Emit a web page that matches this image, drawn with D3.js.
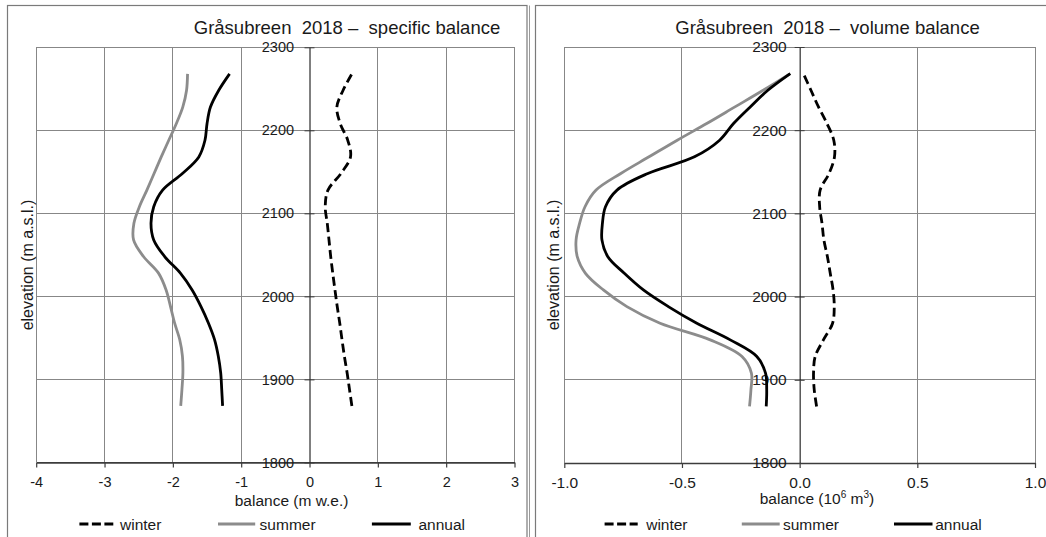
<!DOCTYPE html>
<html><head><meta charset="utf-8">
<script src="https://cdn.jsdelivr.net/npm/d3@7"></script>
<style>
html,body{margin:0;padding:0;background:#fff;}
svg{display:block;font-family:"Liberation Sans",Arial,sans-serif;}
</style></head>
<body>
<script>
// ---------- DATA ----------
const elevations = [1868,1888,1908,1928,1948,1968,1988,2008,2028,2048,2068,2088,2108,2128,2148,2168,2188,2208,2228,2248,2268];

// specific balance (m w.e.)
const specWinter = [0.62,0.585,0.55,0.51,0.475,0.442,0.405,0.372,0.34,0.31,0.285,0.26,0.23,0.27,0.46,0.60,0.56,0.45,0.40,0.49,0.62];
const specSummer = [-1.885,-1.867,-1.853,-1.86,-1.90,-1.975,-2.035,-2.10,-2.21,-2.43,-2.575,-2.57,-2.49,-2.38,-2.275,-2.17,-2.06,-1.95,-1.855,-1.80,-1.785];
const specAnnual = [-1.272,-1.285,-1.30,-1.335,-1.39,-1.48,-1.59,-1.72,-1.89,-2.12,-2.28,-2.32,-2.28,-2.15,-1.86,-1.62,-1.53,-1.50,-1.45,-1.33,-1.17];

// volume balance (10^6 m3)
const volWinter = [0.072,0.062,0.059,0.066,0.101,0.14,0.147,0.142,0.13,0.118,0.103,0.095,0.085,0.087,0.125,0.148,0.145,0.116,0.08,0.048,0.016];
const volSummer = [-0.213,-0.207,-0.205,-0.245,-0.38,-0.593,-0.734,-0.834,-0.91,-0.945,-0.95,-0.935,-0.912,-0.865,-0.76,-0.64,-0.52,-0.395,-0.275,-0.155,-0.04];
const volAnnual = [-0.142,-0.140,-0.145,-0.182,-0.295,-0.437,-0.558,-0.664,-0.745,-0.815,-0.84,-0.838,-0.825,-0.776,-0.645,-0.447,-0.34,-0.281,-0.21,-0.135,-0.04];

const elevTicks = [1800,1900,2000,2100,2200,2300];
const specTicksX = [-4,-3,-2,-1,0,1,2,3];
const volTicksX = [-1,-0.5,0,0.5,1];
const seriesNames = ["winter","summer","annual"];
const specTitle = "Gråsubreen  2018 –  specific balance";
const volTitle = "Gråsubreen  2018 –  volume balance";
const yTitle = "elevation (m a.s.l.)";

// ---------- DRAW ----------
const W = 1046, H = 537;
const svg = d3.select("body").append("svg").attr("width", W).attr("height", H);
svg.append("rect").attr("width", W).attr("height", H).attr("fill", "#fff");

// panel frames
svg.append("rect").attr("x", 7.5).attr("y", 5.5).attr("width", 519.5).attr("height", 560)
  .attr("fill", "none").attr("stroke", "#7a7a7a").attr("stroke-width", 1.2);
svg.append("line").attr("x1", 529.5).attr("x2", 529.5).attr("y1", 5.5).attr("y2", H)
  .attr("stroke", "#9a9a9a").attr("stroke-width", 1);
svg.append("rect").attr("x", 535.5).attr("y", 5.5).attr("width", 560).attr("height", 560)
  .attr("fill", "none").attr("stroke", "#7a7a7a").attr("stroke-width", 1.2);

const GRID = "#878787", SUMMER = "#8c8c8c";
const hyphen = f => d => f(d).replace("\u2212", "-");

function panel(cfg) {
  const x = d3.scaleLinear().domain(cfg.xDomain).range(cfg.xRange);
  const y = d3.scaleLinear().domain([1800, 2300]).range(cfg.yRange);
  const g = svg.append("g");

  // grid
  g.selectAll(".vg").data(cfg.xTicks).join("line")
    .attr("x1", d => x(d)).attr("x2", d => x(d))
    .attr("y1", y(1800)).attr("y2", y(2300))
    .attr("stroke", d => d === 0 ? "none" : GRID).attr("stroke-width", 1)
    .attr("shape-rendering", "crispEdges");
  g.selectAll(".hg").data(elevTicks.filter(d => d !== 1800)).join("line")
    .attr("x1", cfg.xRange[0]).attr("x2", cfg.xRange[1])
    .attr("y1", d => y(d)).attr("y2", d => y(d))
    .attr("stroke", GRID).attr("stroke-width", 1)
    .attr("shape-rendering", "crispEdges");

  // x axis (bottom, at 1800)
  const xa = g.append("g").attr("transform", `translate(0,${y(1800)})`)
    .call(d3.axisBottom(x).tickValues(cfg.xTicks).tickSize(5).tickSizeOuter(0)
      .tickPadding(cfg.xPad).tickFormat(hyphen(cfg.xFmt)));
  xa.attr("font-family", null).attr("font-size", cfg.tickFont);
  xa.select(".domain").attr("stroke", "#3c3c3c").attr("stroke-width", 1.6);
  xa.selectAll(".tick line").attr("stroke", "#3c3c3c").attr("stroke-width", 1.2);
  xa.selectAll(".tick text").attr("fill", "#1a1a1a");

  // y axis at x = 0
  const ya = g.append("g").attr("transform", `translate(${x(0)},0)`)
    .call(d3.axisLeft(y).tickValues(elevTicks).tickSize(5).tickSizeOuter(0)
      .tickPadding(cfg.yPad).tickFormat(d3.format("d")));
  ya.attr("font-family", null).attr("font-size", cfg.tickFont);
  ya.select(".domain").attr("stroke", "#000").attr("stroke-width", 1);
  ya.selectAll(".tick line").attr("x1", -5).attr("x2", 5).attr("stroke", "#3c3c3c");
  ya.selectAll(".tick text").attr("fill", "#1a1a1a");

  // curves
  const line = d3.line().x(d => x(d[1])).y(d => y(d[0])).curve(d3.curveCatmullRom.alpha(0.5));
  const zip = arr => elevations.map((e, i) => [e, arr[i]]);
  g.append("path").datum(zip(cfg.summer)).attr("d", line).attr("fill", "none")
    .attr("stroke", SUMMER).attr("stroke-width", 2.8).attr("stroke-linecap", "butt");
  g.append("path").datum(zip(cfg.annual)).attr("d", line).attr("fill", "none")
    .attr("stroke", "#000").attr("stroke-width", 2.8);
  g.append("path").datum(zip(cfg.winter)).attr("d", line).attr("fill", "none")
    .attr("stroke", "#000").attr("stroke-width", 2.8).attr("stroke-dasharray", "9,4.5");

  // title
  g.append("text").attr("x", cfg.titleX).attr("y", 33.5).attr("text-anchor", "middle")
    .attr("font-size", 18.5).attr("fill", "#1a1a1a").style("white-space", "pre").text(cfg.title);

  // y title
  g.append("text").attr("transform", `translate(${cfg.yTitleX},265) rotate(-90)`)
    .attr("text-anchor", "middle").attr("dominant-baseline", "central")
    .attr("font-size", 16).attr("fill", "#1a1a1a").text(yTitle);

  // x title
  cfg.xTitle(g.append("text").attr("x", cfg.xTitlePos[0]).attr("y", cfg.xTitlePos[1])
    .attr("text-anchor", "middle").attr("font-size", 15.5).attr("fill", "#1a1a1a"));

  // legend
  const styles = [
    {stroke: "#000", dash: "9,3.5"},
    {stroke: SUMMER, dash: null},
    {stroke: "#000", dash: null}
  ];
  seriesNames.forEach((name, i) => {
    const L = cfg.legend[i];
    g.append("line").attr("x1", L[0]).attr("x2", L[1]).attr("y1", 524).attr("y2", 524)
      .attr("stroke", styles[i].stroke).attr("stroke-width", 3)
      .attr("stroke-dasharray", styles[i].dash);
    g.append("text").attr("x", L[2]).attr("y", 529.5).attr("font-size", 15.5)
      .attr("fill", "#1a1a1a").text(name);
  });
}

panel({
  xDomain: [-4, 3], xRange: [36.2, 514.5], yRange: [462.4, 47.3],
  xTicks: specTicksX, xFmt: d3.format("d"), xPad: 9.3, yPad: 10.5, tickFont: 14.5,
  winter: specWinter, summer: specSummer, annual: specAnnual,
  title: specTitle, titleX: 347, yTitleX: 27,
  xTitlePos: [291.6, 505.6],
  xTitle: t => t.text("balance (m w.e.)"),
  legend: [[79.4, 113.3, 120], [218, 255.2, 259.6], [371.9, 410.8, 418.5]]
});

panel({
  xDomain: [-1, 1], xRange: [564.3, 1035], yRange: [463, 47],
  xTicks: volTicksX, xFmt: d3.format(".1f"), xPad: 8.7, yPad: 8, tickFont: 15.5,
  winter: volWinter, summer: volSummer, annual: volAnnual,
  title: volTitle, titleX: 827.5, yTitleX: 553,
  xTitlePos: [817, 504],
  xTitle: t => {
    t.append("tspan").text("balance (10");
    t.append("tspan").attr("font-size", 10).attr("dy", -6).text("6");
    t.append("tspan").attr("dy", 6).text(" m");
    t.append("tspan").attr("font-size", 10).attr("dy", -6).text("3");
    t.append("tspan").attr("dy", 6).text(")");
  },
  legend: [[604.6, 637.7, 646.2], [741.8, 779.7, 783], [894, 932.5, 935.2]]
});
</script>
</body></html>
